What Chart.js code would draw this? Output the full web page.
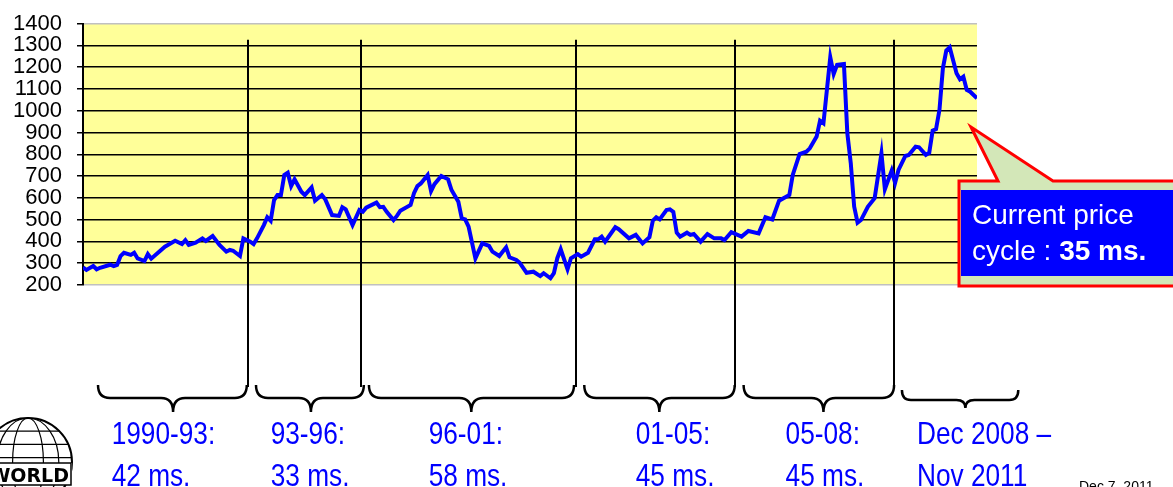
<!DOCTYPE html>
<html>
<head>
<meta charset="utf-8">
<script src="https://cdn.jsdelivr.net/npm/chart.js@4.4.1/dist/chart.umd.min.js"></script>
<style>
  html, body { margin: 0; padding: 0; background: #fff; }
  #wrap { width: 1173px; height: 487px; position: relative; overflow: hidden; }
</style>
</head>
<body>
<div id="wrap"><canvas id="priceChart" width="1173" height="487"></canvas></div>
<script>
// month index counted from Jan 1990 (0) to Nov 2011 (262)
const months = [0, 1, 3, 4, 5, 8, 9, 10, 11, 12, 14, 15, 16, 18, 19, 20, 24, 25, 27, 29, 30, 31, 33, 35, 36, 38, 40, 42, 43, 44, 46, 47, 49, 50, 51, 53, 54, 55, 56, 57, 58, 59, 60, 61, 62, 64, 65, 67, 68, 70, 71, 73, 75, 76, 77, 79, 81, 82, 83, 86, 87, 88, 89, 91, 92, 93, 96, 97, 98, 99, 101, 102, 103, 105, 107, 108, 110, 111, 112, 113, 115, 117, 119, 120, 122, 124, 125, 127, 128, 130, 132, 134, 135, 137, 138, 139, 140, 142, 143, 145, 146, 148, 150, 151, 152, 153, 156, 157, 160, 162, 164, 166, 167, 168, 169, 171, 172, 173, 174, 175, 177, 178, 179, 181, 183, 185, 187, 188, 190, 193, 195, 198, 200, 202, 204, 207, 208, 210, 212, 213, 215, 216, 217, 219, 220, 221, 223, 224, 225, 226, 227, 228, 230, 232, 234, 235, 237, 238, 239, 241, 242, 244, 245, 247, 248, 249, 250, 251, 252, 253, 254, 256, 257, 258, 259, 260, 262];
const prices = [281, 269, 287, 272, 279, 293, 287, 292, 333, 348, 338, 348, 322, 310, 342, 321, 376, 385, 403, 388, 406, 384, 394, 414, 402, 425, 384, 353, 361, 357, 333, 414, 399, 388, 414, 475, 511, 495, 590, 613, 613, 705, 715, 654, 685, 628, 613, 648, 587, 613, 593, 521, 517, 557, 547, 475, 544, 536, 555, 578, 557, 559, 536, 498, 517, 541, 567, 621, 654, 666, 705, 631, 663, 700, 685, 636, 582, 506, 501, 468, 322, 391, 379, 353, 333, 373, 327, 315, 302, 256, 261, 241, 254, 231, 254, 323, 364, 272, 323, 342, 330, 348, 410, 410, 422, 399, 465, 456, 414, 430, 391, 419, 495, 511, 501, 544, 547, 536, 440, 422, 440, 430, 434, 399, 434, 414, 414, 406, 442, 422, 448, 437, 511, 501, 587, 613, 705, 801, 812, 827, 881, 954, 942, 1245, 1168, 1210, 1214, 896, 760, 560, 486, 498, 559, 598, 804, 639, 725, 669, 728, 792, 797, 835, 832, 797, 807, 908, 915, 1004, 1194, 1276, 1291, 1172, 1144, 1156, 1095, 1087, 1057];

// cycle boundaries (month index) where the vertical markers stand
const cycleBreaks = [48.4, 81.5, 144.5, 191, 237.7];
// brace spans below the chart, in month index
const braceStart = [4.4, 50.7, 83.8, 146.9, 193.6, 240];
const braceEnd = [48, 82.3, 143.9, 191, 237.7, 274.1];
const braceTip = [26.4, 66.8, 113.8, 168.9, 217, 258.6];
const cycleLabels = [
  ['1990-93:', '42 ms.'],
  ['93-96:', '33 ms.'],
  ['96-01:', '58 ms.'],
  ['01-05:', '45 ms.'],
  ['05-08:', '45 ms.'],
  ['Dec 2008 \u2013', 'Nov 2011']
];
const labelAt = [8.4, 55, 101.3, 162, 205.9, 244.4];

const yMin = 200, yMax = 1400, yStep = 100;

const points = months.map((m, i) => ({ x: m, y: prices[i] }));

const plotBg = {
  id: 'plotBg',
  beforeDraw(chart) {
    const { ctx, chartArea: a } = chart;
    ctx.save();
    ctx.fillStyle = '#FFFF99';
    ctx.fillRect(a.left, a.top, a.right - a.left, a.bottom - a.top);
    ctx.restore();
  }
};

const cycleMarks = {
  id: 'cycleMarks',
  beforeDatasetsDraw(chart) {
    const { ctx, chartArea: a, scales: { x, y } } = chart;
    ctx.save();
    ctx.strokeStyle = '#000';
    ctx.lineWidth = 2;
    const top = y.getPixelForValue(1325);
    cycleBreaks.forEach(m => {
      const px = Math.round(x.getPixelForValue(m));
      ctx.beginPath();
      ctx.moveTo(px, top);
      ctx.lineTo(px, a.bottom + 102);
      ctx.stroke();
    });
    ctx.restore();
  },
  afterDraw(chart) {
    const { ctx, chartArea: a, scales: { x } } = chart;
    ctx.save();
    // braces
    ctx.strokeStyle = '#000';
    ctx.lineWidth = 2.5;
    braceStart.forEach((s, i) => {
      const x1 = x.getPixelForValue(s), x2 = x.getPixelForValue(braceEnd[i]), xm = x.getPixelForValue(braceTip[i]);
      const small = i === 5;
      const yt = a.bottom + (small ? 105 : 100), yb = a.bottom + (small ? 115 : 113), ya = a.bottom + (small ? 123 : 127);
      const r = small ? 9 : 12;
      ctx.beginPath();
      ctx.moveTo(x1, yt);
      ctx.quadraticCurveTo(x1, yb, x1 + r, yb);
      ctx.lineTo(xm - r, yb);
      ctx.quadraticCurveTo(xm, yb, xm, ya);
      ctx.quadraticCurveTo(xm, yb, xm + r, yb);
      ctx.lineTo(x2 - r, yb);
      ctx.quadraticCurveTo(x2, yb, x2, yt);
      ctx.stroke();
    });

    // cycle labels in a narrow face
    ctx.font = '32px "Liberation Sans Narrow", monospace';
    const wn = ctx.measureText('1990-93:').width;
    ctx.font = '32px monospace';
    const wm = ctx.measureText('1990-93:').width;
    let sx = 1;
    let face = '32px "Liberation Sans Narrow"';
    if (Math.abs(wn - wm) < 0.5) { face = '32px "Liberation Sans"'; sx = 0.82; }
    ctx.font = face;
    ctx.fillStyle = '#0000FF';
    ctx.textBaseline = 'alphabetic';
    cycleLabels.forEach((lines, i) => {
      const lx = x.getPixelForValue(labelAt[i]);
      lines.forEach((t, k) => {
        ctx.save();
        ctx.translate(lx, 444 + k * 42);
        ctx.scale(sx, 1);
        ctx.fillText(t, 0, 0);
        ctx.restore();
      });
    });

    // date note
    ctx.fillStyle = '#000';
    ctx.font = '14px "Liberation Sans"';
    ctx.fillText('Dec 7, 2011', 1079, 491);

    // globe logo
    ctx.save();
    ctx.beginPath();
    ctx.rect(0, 400, 80, 87);
    ctx.clip();
    ctx.strokeStyle = '#000';
    ctx.lineWidth = 2;
    const cx = 28, cy = 462, rr = 44;
    ctx.beginPath(); ctx.arc(cx, cy, rr, 0, Math.PI * 2); ctx.stroke();
    ctx.lineWidth = 1.2;
    [0.35, 0.7].forEach(f => {
      ctx.beginPath(); ctx.ellipse(cx, cy, rr * f, rr, 0, 0, Math.PI * 2); ctx.stroke();
    });
    [-0.7, -0.4, -0.1, 0.2].forEach(f => {
      const yy = cy + rr * f, hw = Math.sqrt(rr * rr - (rr * f) * (rr * f));
      ctx.beginPath(); ctx.moveTo(cx - hw, yy); ctx.lineTo(cx + hw, yy); ctx.stroke();
    });
    ctx.fillStyle = '#fff';
    ctx.fillRect(0, 463, 72, 22);
    ctx.lineWidth = 1.5;
    ctx.strokeRect(-2, 463, 73, 22);
    ctx.fillStyle = '#000';
    ctx.font = 'bold 19px "DejaVu Sans"';
    ctx.textAlign = 'right';
    ctx.fillText('WORLD', 69, 482);
    ctx.restore();

    // callout
    ctx.beginPath();
    ctx.moveTo(959, 181);
    ctx.lineTo(998, 181);
    ctx.lineTo(971, 127);
    ctx.lineTo(1053, 181);
    ctx.lineTo(1185, 181);
    ctx.lineTo(1185, 286);
    ctx.lineTo(959, 286);
    ctx.closePath();
    ctx.fillStyle = '#D3E7B8';
    ctx.fill();
    ctx.strokeStyle = '#FF0000';
    ctx.lineWidth = 3;
    ctx.stroke();
    ctx.fillStyle = '#0000FF';
    ctx.fillRect(961, 190, 220, 86);
    ctx.fillStyle = '#fff';
    ctx.textAlign = 'left';
    ctx.font = '28px "Liberation Sans"';
    ctx.fillText('Current price', 972, 224);
    const lead = 'cycle : ';
    ctx.fillText(lead, 972, 260);
    const lw = ctx.measureText(lead).width;
    ctx.font = 'bold 28px "Liberation Sans"';
    ctx.fillText('35 ms.', 972 + lw, 260);
    ctx.restore();
  }
};

new Chart(document.getElementById('priceChart'), {
  type: 'line',
  data: {
    datasets: [{
      data: points,
      borderColor: '#0000FF',
      borderWidth: 4,
      pointRadius: 0,
      tension: 0,
      fill: false
    }]
  },
  options: {
    responsive: false,
    animation: false,
    layout: { padding: { left: 0, right: 196, top: 23.5, bottom: 202 } },
    plugins: { legend: { display: false }, tooltip: { enabled: false } },
    scales: {
      x: { type: 'linear', min: 0, max: 262, display: false },
      y: {
        min: yMin, max: yMax,
        afterFit(s) { s.width = 83; s.paddingTop = 0; s.paddingBottom = 0; },
        ticks: {
          stepSize: yStep,
          autoSkip: false,
          padding: 15,
          color: '#000',
          font: { family: '"Liberation Sans", Arial', size: 22 },
          callback: v => String(v)
        },
        grid: {
          color: c => (c.tick && (c.tick.value === yMin || c.tick.value === yMax)) ? '#C0C0C0' : '#000',
          lineWidth: 1.5,
          tickColor: '#000',
          tickLength: 6
        },
        border: { display: true, color: '#000', width: 2 }
      }
    }
  },
  plugins: [plotBg, cycleMarks]
});
</script>
</body>
</html>
